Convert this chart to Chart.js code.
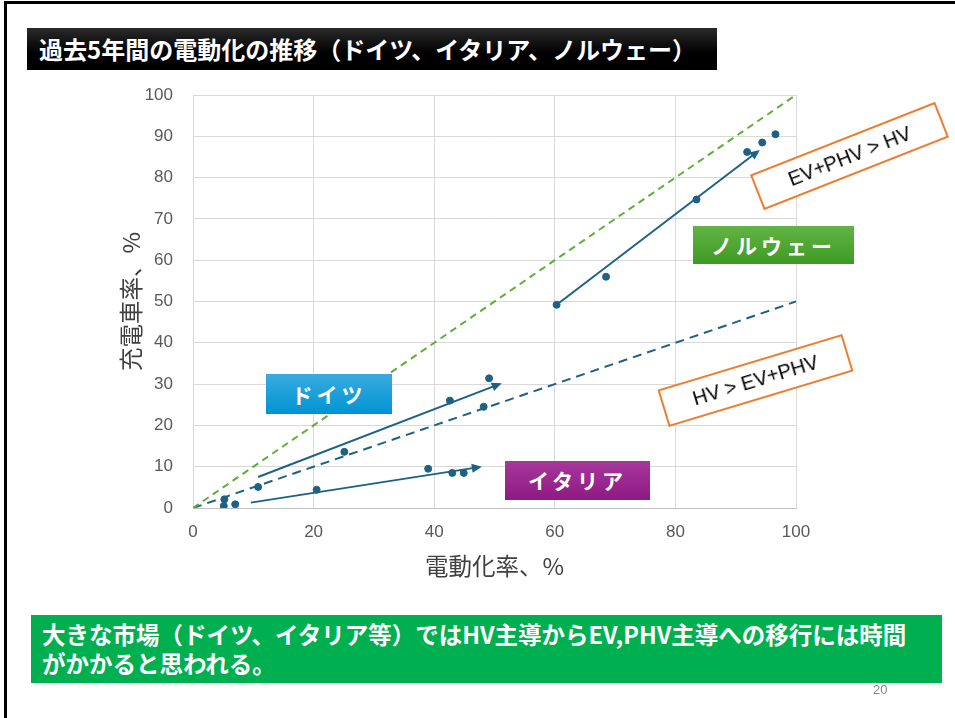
<!DOCTYPE html>
<html lang="ja">
<head>
<meta charset="UTF-8">
<title>過去5年間の電動化の推移</title>
<script src="https://cdn.jsdelivr.net/npm/chart.js"></script>
<style>
  body { margin:0; background:#fff; font-family:"Noto Sans CJK JP","Noto Sans",sans-serif; }
  #slide { position:relative; width:955px; height:718px; overflow:hidden; }
  #frame { position:absolute; left:4px; top:1px; width:960px; height:730px; border-top:3px solid #000; border-left:3px solid #000; }
  #chartBox { position:absolute; left:0; top:0; width:955px; height:718px; }
  .title { position:absolute; left:27px; top:28px; width:690px; height:42px; background:linear-gradient(#2a2a2a,#000 60%); color:#fff; font-weight:bold; font-size:24px; line-height:42px; padding-left:12px; box-sizing:border-box; white-space:nowrap; }
  .tag { position:absolute; color:#fff; font-weight:bold; font-size:21px; text-align:center; letter-spacing:4px; }
  .rot { position:absolute; background:#fff; border:2px solid #ed7d31; box-sizing:border-box; font-family:"Liberation Sans",Arial,sans-serif; font-size:20px; color:#000; text-align:center; white-space:nowrap; }
  .note { position:absolute; left:31px; top:615px; width:911px; height:68px; background:#00b050; color:#fff; font-weight:bold; font-size:23.5px; line-height:29px; padding:5px 0 0 11px; box-sizing:border-box; white-space:nowrap; }
  .page { position:absolute; left:873px; top:682px; font-family:"Liberation Sans",Arial,sans-serif; font-size:13px; color:#888; }
</style>
</head>
<body>
<div id="slide">
  <div id="frame"></div>
  <div id="chartBox"><canvas id="evChart"></canvas></div>
  <div class="title">過去5年間の電動化の推移（ドイツ、イタリア、ノルウェー）</div>
  <div class="tag" style="left:266px;top:374px;width:126px;height:40px;line-height:40px;background:linear-gradient(#3aaae0,#0094d2);">ドイツ</div>
  <div class="tag" style="left:505px;top:461px;width:145px;height:39px;line-height:39px;background:linear-gradient(#a6379b,#8e1a84);">イタリア</div>
  <div class="tag" style="left:693px;top:226px;width:161px;height:38px;line-height:38px;background:linear-gradient(#62b444,#3e9a22);">ノルウェー</div>
  <div class="rot" style="left:750px;top:137px;width:199px;height:38px;line-height:34px;transform:rotate(-21.5deg);">EV+PHV &gt; HV</div>
  <div class="rot" style="left:659px;top:361px;width:193px;height:39px;line-height:35px;transform:rotate(-16.8deg);">HV &gt; EV+PHV</div>
  <div class="note">大きな市場（ドイツ、イタリア等）ではHV主導からEV,PHV主導への移行には時間<br>がかかると思われる。</div>
  <div class="page">20</div>
</div>
<script>
// electrification rate (x) vs charged-vehicle rate (y), %
var germanyX = [5.2, 10.8, 25.1, 42.6, 48.2, 49.1];
var germanyY = [2.1, 5.1, 13.6, 26.0, 24.5, 31.4];
var italyX = [5.1, 7.0, 20.5, 39.0, 43.0, 44.9];
var italyY = [0.5, 0.9, 4.4, 9.5, 8.5, 8.5];
var norwayX = [60.3, 68.5, 83.5, 91.9, 94.4, 96.6];
var norwayY = [49.2, 56.0, 74.7, 86.2, 88.5, 90.5];

// reference lines y = x and y = x/2
var equalLine = [[0, 0], [100, 100]];
var halfLine = [[0, 0], [100, 50]];

// trend arrows [start, end]
var germanyArrow = [[10.8, 7.5], [51.2, 30.2]];
var italyArrow = [[9.6, 1.3], [47.9, 10.0]];
var norwayArrow = [[60.3, 49.2], [94.0, 86.7]];

var xTicks = [0, 20, 40, 60, 80, 100];
var yTicks = [0, 10, 20, 30, 40, 50, 60, 70, 80, 90, 100];

var blue = '#1d6285';
var green = '#5fae36';

function pts(xs, ys) { return xs.map(function(x, i) { return {x: x, y: ys[i]}; }); }
function pairs(a) { return a.map(function(p) { return {x: p[0], y: p[1]}; }); }

var arrowPlugin = {
    id: 'arrows',
    afterDatasetsDraw: function(chart) {
        var ctx = chart.ctx, xs = chart.scales.x, ys = chart.scales.y;
        [germanyArrow, italyArrow, norwayArrow].forEach(function(a) {
            var x1 = xs.getPixelForValue(a[0][0]), y1 = ys.getPixelForValue(a[0][1]);
            var x2 = xs.getPixelForValue(a[1][0]), y2 = ys.getPixelForValue(a[1][1]);
            var ang = Math.atan2(y2 - y1, x2 - x1);
            ctx.save();
            ctx.strokeStyle = blue; ctx.fillStyle = blue; ctx.lineWidth = 2;
            ctx.beginPath();
            ctx.moveTo(x1, y1);
            ctx.lineTo(x2 - 6 * Math.cos(ang), y2 - 6 * Math.sin(ang));
            ctx.stroke();
            ctx.translate(x2, y2); ctx.rotate(ang);
            ctx.beginPath();
            ctx.moveTo(0, 0); ctx.lineTo(-10, -4.5); ctx.lineTo(-10, 4.5);
            ctx.closePath(); ctx.fill();
            ctx.restore();
        });
    }
};

var ctx = document.getElementById('evChart').getContext('2d');
var evChart = new Chart(ctx, {
    type: 'scatter',
    data: {
        datasets: [
            { type: 'line', data: pairs(equalLine), borderColor: green, borderWidth: 2, borderDash: [7, 5], pointRadius: 0 },
            { type: 'line', data: pairs(halfLine), borderColor: blue, borderWidth: 2, borderDash: [9, 6], pointRadius: 0 },
            { data: pts(germanyX, germanyY), backgroundColor: blue, borderColor: blue, pointRadius: 3.5 },
            { data: pts(italyX, italyY), backgroundColor: blue, borderColor: blue, pointRadius: 3.5 },
            { data: pts(norwayX, norwayY), backgroundColor: blue, borderColor: blue, pointRadius: 3.5 }
        ]
    },
    options: {
        responsive: true,
        maintainAspectRatio: false,
        animation: false,
        layout: { padding: { left: 113, right: 159, top: 95, bottom: 138 } },
        plugins: { legend: { display: false }, tooltip: { enabled: false } },
        scales: {
            x: {
                type: 'linear', min: 0, max: 100,
                afterBuildTicks: function(s) { s.ticks = xTicks.map(function(v) { return {value: v}; }); },
                afterFit: function(s) { s.height = 72; },
                grid: { color: '#d9d9d9', drawTicks: false },
                border: { color: '#bfbfbf' },
                ticks: { padding: 14, color: '#595959', font: { family: 'Liberation Sans', size: 17 } },
                title: { display: true, text: '電動化率、%', color: '#404040', padding: { top: 0, bottom: 0 },
                         font: { family: 'Noto Sans CJK JP', size: 23.5 } }
            },
            y: {
                type: 'linear', min: 0, max: 100,
                afterBuildTicks: function(s) { s.ticks = yTicks.map(function(v) { return {value: v}; }); },
                afterFit: function(s) { s.width = 80; },
                grid: { color: '#d9d9d9', drawTicks: false },
                border: { display: false },
                ticks: { padding: 20, color: '#595959', font: { family: 'Liberation Sans', size: 17 } },
                title: { display: true, text: '充電車率、%', color: '#404040', padding: { top: 4, bottom: 4 },
                         font: { family: 'Noto Sans CJK JP', size: 23.5 } }
            }
        }
    },
    plugins: [arrowPlugin]
});
</script>
</body>
</html>
